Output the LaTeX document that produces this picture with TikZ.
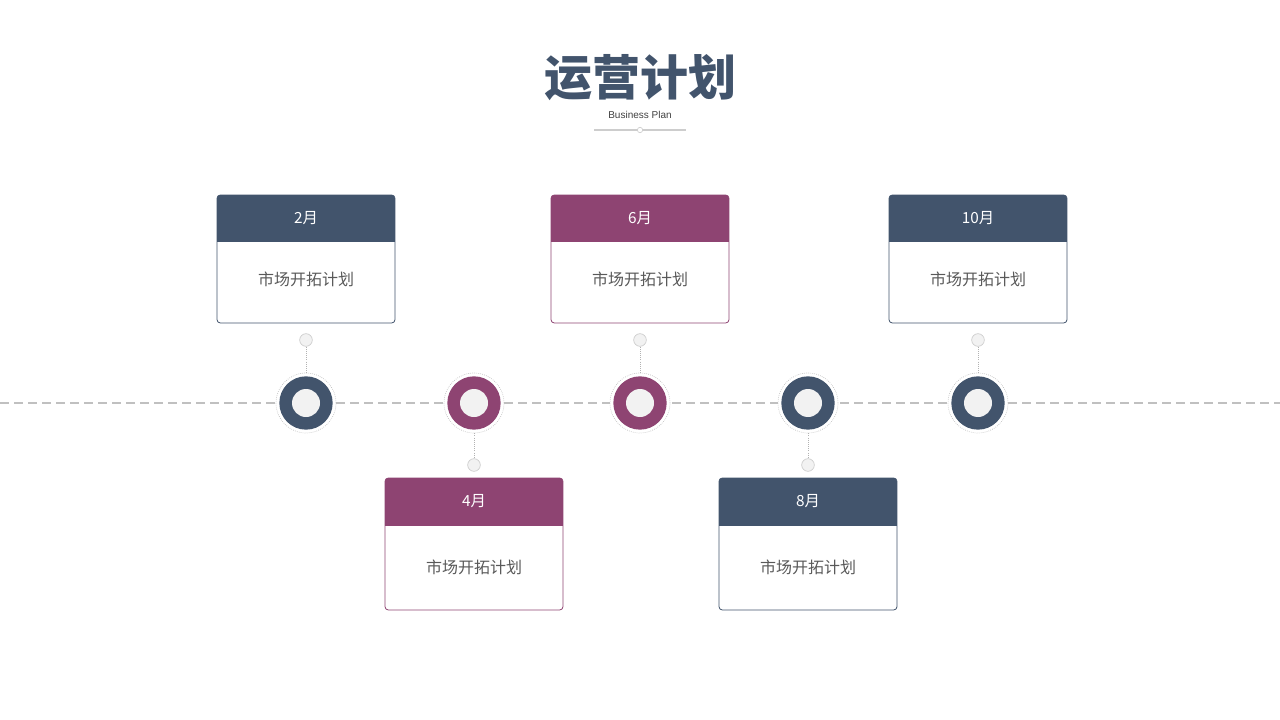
\documentclass[tikz,border=0pt]{standalone}
\usepackage{fontspec}
\setmainfont{Liberation Sans}
\newfontfamily\cjk{Noto Sans CJK SC}
\definecolor{slate}{HTML}{42546C}
\definecolor{plum}{HTML}{8E4472}
\definecolor{dashgray}{HTML}{C0C0C0}
\definecolor{innerg}{HTML}{F2F2F2}
\definecolor{txtg}{HTML}{595959}
\begin{document}
\begin{tikzpicture}[x=0.75pt,y=-0.75pt,
  boxbody/.style={draw=#1, line width=0.6pt, fill=white, rounded corners=2.5pt},
  headtxt/.style={text=white, font=\cjk\fontsize{11.5}{13}\selectfont},
  bodytxt/.style={text=txtg, font=\cjk\fontsize{12}{14}\selectfont},
  ringout/.style={circle, draw=gray!55, line width=0.5pt, densely dotted, fill=white, minimum size=45pt, inner sep=0pt},
  ring/.style={circle, fill=#1, minimum size=40pt, inner sep=0pt},
  ringin/.style={circle, fill=innerg, minimum size=21pt, inner sep=0pt},
  smalldot/.style={circle, draw=dashgray!80, line width=0.5pt, fill=innerg, minimum size=9.5pt, inner sep=0pt},
  stem/.style={draw=gray!60, line width=0.6pt, densely dotted}]
\useasboundingbox (0,0) rectangle (1280,720);
% title
\node (title) at (640,78) {\cjk\bfseries\color{slate}\fontsize{36}{40}\selectfont 运营计划};
\node (sub) at (640,115) {\color{darkgray}\fontsize{7.5}{8}\selectfont Business Plan};
\coordinate (ul) at (594,130);
\coordinate (ur) at (686,130);
\draw[dashgray!80, line width=0.8pt] (ul) -- (ur);
\node[circle, draw=dashgray!80, fill=white, line width=0.5pt, minimum size=4pt, inner sep=0pt] (udot) at (640,130) {};
% dashed axis
\coordinate (axl) at (0,403);
\coordinate (axr) at (1280,403);
\draw[dashgray, line width=2.2pt, dash pattern=on 7pt off 3.5pt] (axl) -- (axr);
% milestones
\foreach \x/\c/\u/\lab/\n in {306/slate/1/2月/a, 474/plum/0/4月/b, 640/plum/1/6月/c, 808/slate/0/8月/d, 978/slate/1/10月/e}{
  \ifnum\u=1
    \node[smalldot] (s\n) at (\x,340) {};
    \node[ringout] (o\n) at (\x,403) {};
    \draw[stem] (s\n) -- (o\n);
    \node[ring=\c] (r\n) at (\x,403) {};
    \node[ringin] (i\n) at (\x,403) {};
    \draw[boxbody=\c] (\x-89,195) rectangle (\x+89,323);
    \begin{scope}
      \clip[rounded corners=2.5pt] (\x-89,195) rectangle (\x+89,323);
      \fill[\c] (\x-89,195) rectangle (\x+89,242);
    \end{scope}
    \node[headtxt] (h\n) at (\x,218.5) {\lab};
    \node[bodytxt] (t\n) at (\x,279) {市场开拓计划};
  \else
    \node[smalldot] (s\n) at (\x,465) {};
    \node[ringout] (o\n) at (\x,403) {};
    \draw[stem] (o\n) -- (s\n);
    \node[ring=\c] (r\n) at (\x,403) {};
    \node[ringin] (i\n) at (\x,403) {};
    \draw[boxbody=\c] (\x-89,478) rectangle (\x+89,610);
    \begin{scope}
      \clip[rounded corners=2.5pt] (\x-89,478) rectangle (\x+89,610);
      \fill[\c] (\x-89,478) rectangle (\x+89,526);
    \end{scope}
    \node[headtxt] (h\n) at (\x,501) {\lab};
    \node[bodytxt] (t\n) at (\x,567) {市场开拓计划};
  \fi
}
\end{tikzpicture}
\end{document}
